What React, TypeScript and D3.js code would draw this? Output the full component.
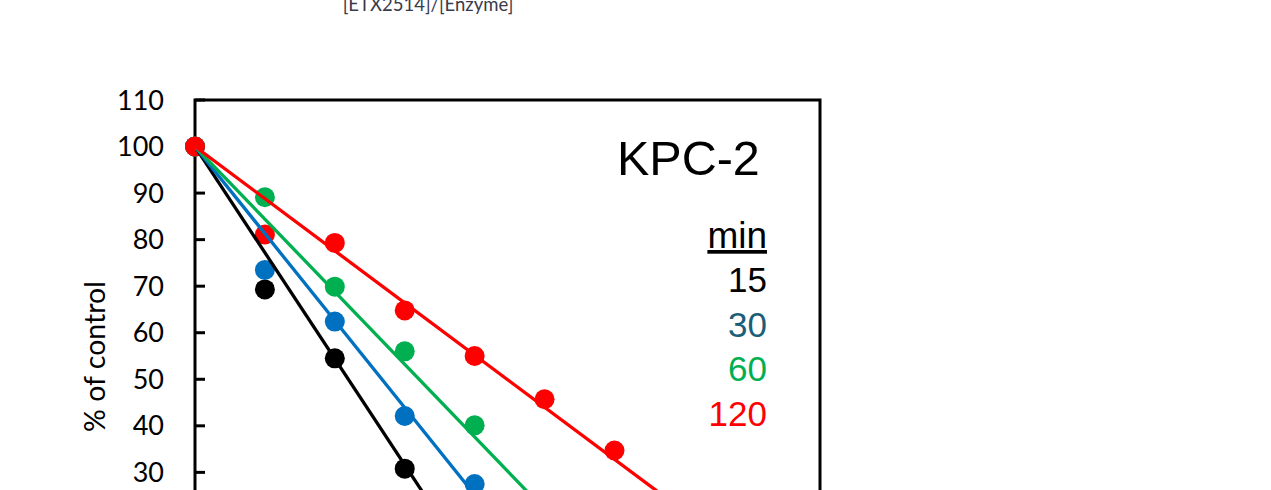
import React from "react";
import * as d3 from "d3";

const xValues = [0, 1, 2, 3, 4, 5, 6];
const seriesNames = ["15", "30", "60", "120"];
const seriesColors = ["#000000", "#0070C0", "#00B050", "#FF0000"];
const legendColors = ["#000000", "#1B5E78", "#00B050", "#FF0000"];
const black15 = [100, 69.3, 54.5, 30.8];
const blue30 = [100, 73.5, 62.4, 42.1, 27.5];
const green60 = [100, 89.1, 69.9, 56.0, 40.1];
const red120 = [100, 81.1, 79.3, 64.8, 55.0, 45.7, 34.7];
const seriesValues = [black15, blue30, green60, red120];
const fitSlopes = [-22.8, -18.7, -15.6, -11.2];
const fitIntercept = 100;
const yTicks = [30, 40, 50, 60, 70, 80, 90, 100, 110];
const title = "KPC-2";
const legendTitle = "min";
const yLabel = "% of control";
const topLabel = "[ETX2514]/[Enzyme]";

const W = 1271;
const H = 490;
const left = 195;
const right = 820;
const top = 100;
const bottom = 612;

export default function App() {
  const x = d3.scaleLinear().domain([0, 8.94]).range([left, right]);
  const y = d3.scaleLinear().domain([0, 110]).range([bottom, top]);
  const xDom = x.domain();

  return (
    <svg
      width={W}
      height={H}
      style={{ position: "absolute", left: 0, top: 0, display: "block" }}
    >
      <rect x={0} y={0} width={W} height={H} fill="#fff" />
      <defs>
        <clipPath id="plot">
          <rect x={left} y={top} width={right - left} height={bottom - top} />
        </clipPath>
      </defs>
      <text
        x={428}
        y={10.5}
        textAnchor="middle"
        fontFamily="Lato"
        fontSize={18.5}
        fill="#3a3a4a"
      >
        {topLabel}
      </text>
      {/* frame */}
      <rect
        x={left}
        y={top}
        width={right - left}
        height={bottom - top}
        fill="none"
        stroke="#000"
        strokeWidth={3}
      />
      {yTicks.map((t) => (
        <g key={t}>
          <line
            x1={left}
            x2={left + 10}
            y1={y(t)}
            y2={y(t)}
            stroke="#000"
            strokeWidth={3}
          />
          <text
            x={164}
            y={y(t) + 9.5}
            textAnchor="end"
            fontFamily="Lato"
            fontSize={27}
            fill="#000"
          >
            {t}
          </text>
        </g>
      ))}
      <text
        transform={`translate(105,356.5) rotate(-90)`}
        textAnchor="middle"
        fontFamily="Lato"
        fontSize={28.5}
        fill="#000"
      >
        {yLabel}
      </text>
      {/* markers */}
      {seriesValues.map((vals, si) =>
        vals.map((v, i) => (
          <circle
            key={`${si}-${i}`}
            cx={x(xValues[i])}
            cy={y(v)}
            r={10}
            fill={seriesColors[si]}
          />
        ))
      )}
      {/* fit lines */}
      <g clipPath="url(#plot)">
        {fitSlopes.map((s, si) => {
          const pts = [xDom[0], xDom[1]];
          const path = d3
            .line<number>()
            .x((d) => x(d))
            .y((d) => y(fitIntercept + s * d))(pts);
          return (
            <path
              key={si}
              d={path || ""}
              fill="none"
              stroke={seriesColors[si]}
              strokeWidth={3.3}
            />
          );
        })}
      </g>
      <text
        x={617}
        y={175}
        fontFamily="'Liberation Sans', Arial"
        fontSize={48.5}
        fill="#000"
      >
        {title}
      </text>
      <text
        x={767}
        y={248}
        textAnchor="end"
        fontFamily="'Liberation Sans', Arial"
        fontSize={37}
        fill="#000"
        textDecoration="underline"
      >
        {legendTitle}
      </text>
      {seriesNames.map((n, i) => (
        <text
          key={n}
          x={767}
          y={292 + i * 44.7}
          textAnchor="end"
          fontFamily="'Liberation Sans', Arial"
          fontSize={35}
          fill={legendColors[i]}
        >
          {n}
        </text>
      ))}
    </svg>
  );
}
